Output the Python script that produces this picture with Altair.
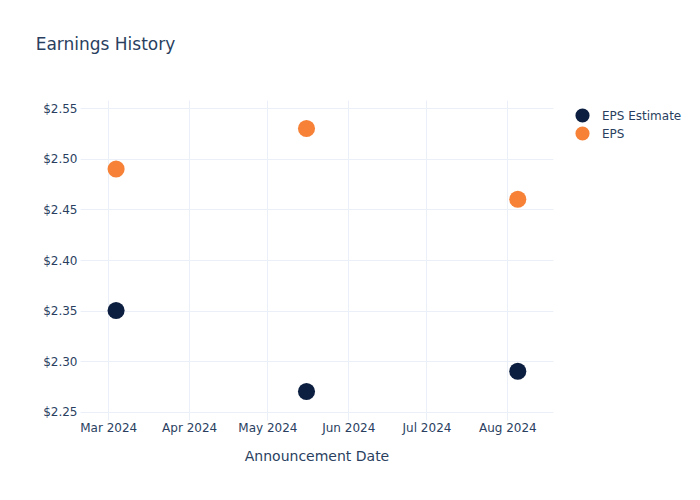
import altair as alt
import pandas as pd

dates = ["2024-03-04T00:00:00", "2024-05-16T00:00:00", "2024-08-05T00:00:00"]
eps_estimate = [2.35, 2.27, 2.29]
eps_actual = [2.49, 2.53, 2.46]
series_names = ["EPS Estimate", "EPS"]
series_colors = ["#0c1f40", "#f68137"]
y_ticks = [2.25, 2.30, 2.35, 2.40, 2.45, 2.50, 2.55]

rows = []
for d, e in zip(dates, eps_estimate):
    rows.append({"date": d, "value": e, "series": "EPS Estimate"})
for d, a in zip(dates, eps_actual):
    rows.append({"date": d, "value": a, "series": "EPS"})
df = pd.DataFrame(rows)

FONT = "DejaVu Sans"
TXT = "#2a3f5f"
GRID = "#ebf0f8"

chart = alt.Chart(df).mark_circle(size=292, opacity=1).encode(
    x=alt.X(
        "date:T",
        title="Announcement Date",
        scale=alt.Scale(
            domain=[
                alt.DateTime(year=2024, month=2, date=19, hours=4),
                alt.DateTime(year=2024, month=8, date=18, hours=12),
            ],
            nice=False,
        ),
        axis=alt.Axis(
            format="%b %Y",
            tickCount={"interval": "month", "step": 1},
            grid=True,
            gridColor=GRID,
            gridWidth=1,
            domain=False,
            ticks=False,
            labelPadding=2,
            labelFont=FONT,
            labelFontSize=12,
            labelColor=TXT,
            titleFont=FONT,
            titleFontSize=14,
            titleFontWeight="normal",
            titleColor=TXT,
            titlePadding=16,
            labelFlush=False,
        ),
    ),
    y=alt.Y(
        "value:Q",
        title=None,
        scale=alt.Scale(domain=[2.2418, 2.5582], nice=False, zero=False),
        axis=alt.Axis(
            values=y_ticks,
            format="$.2f",
            grid=True,
            gridColor=GRID,
            gridWidth=1,
            domain=False,
            ticks=False,
            labelPadding=3,
            labelFont=FONT,
            labelFontSize=12,
            labelColor=TXT,
        ),
    ),
    color=alt.Color(
        "series:N",
        scale=alt.Scale(domain=series_names, range=series_colors),
        legend=alt.Legend(
            title=None,
            orient="none",
            legendX=495,
            legendY=8,
            symbolType="circle",
            symbolSize=200,
            symbolStrokeWidth=0,
            symbolOpacity=1,
            labelFont=FONT,
            labelFontSize=12,
            labelColor=TXT,
            labelOffset=12,
            rowPadding=3,
            padding=0,
        ),
    ),
    order=alt.Order("series:N"),
).properties(
    width=473,
    height=320,
    background="white",
    title=alt.TitleParams(
        "Earnings History",
        anchor="start",
        font=FONT,
        fontSize=17,
        fontWeight="normal",
        color=TXT,
        dx=-7,
        dy=-42,
    ),
    autosize=alt.AutoSizeParams(type="none"),
    padding={"left": 80, "top": 100, "right": 147, "bottom": 80},
).configure_view(strokeWidth=0, stroke="transparent")

chart.save("out.html", embed_options={"renderer": "svg", "actions": False})
